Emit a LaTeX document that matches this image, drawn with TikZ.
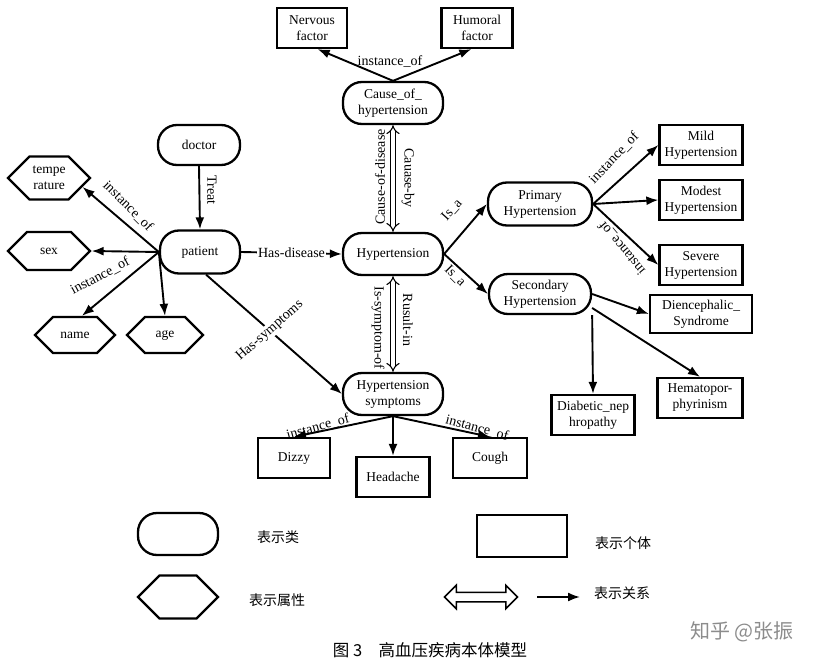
\documentclass[tikz,border=0pt]{standalone}
\usepackage{fontspec}
\setmainfont{Liberation Serif}
\newfontfamily\cjkfont{Noto Sans CJK SC}
\usetikzlibrary{arrows.meta,shapes.symbols,shapes.arrows}
\newcommand{\nodefont}{\fontsize{13.5}{16}\selectfont}
\newcommand{\labelfont}{\fontsize{14}{16}\selectfont}
\tikzset{every picture/.style={line width=0.75pt}}
\tikzset{
classnode/.style={draw, line width=2.3pt, rounded corners=19pt, minimum width=100pt, minimum height=42pt, align=center, inner sep=2pt, font=\nodefont},
indivnode/.style={draw, line width=2.3pt, minimum width=83pt, minimum height=40pt, align=center, inner sep=2pt, font=\nodefont},
attrnode/.style={draw, line width=2.3pt, shape=signal, signal to=west and east, minimum width=82pt, minimum height=40pt, align=center, inner sep=1pt, font=\nodefont},
relarrow/.style={line width=1.9pt, -{Latex[length=12pt,width=9pt]}},
dblarrow/.style={double, double distance=3.5pt, line width=1.1pt, {Implies}-{Implies}},
rellabel/.style={font=\labelfont, inner sep=1pt},
cjktext/.style={font=\cjkfont\fontsize{14}{16}\selectfont, inner sep=1pt}}

\begin{document}
\begin{tikzpicture}[x=1pt,y=1pt,yscale=-1,xscale=1]
            \useasboundingbox (0,0) rectangle (821,663); %same size as the scan

            %Class nodes
            \node[classnode] (cause) at (393,103) {Cause\_of\_\\hypertension};
            \node[classnode, minimum width=82pt, minimum height=40pt] (doctor) at (199,145) {doctor};
            \node[classnode, minimum width=80pt, minimum height=43pt] (patient) at (200,252) {patient};
            \node[classnode] (hyper) at (393,254) {Hypertension};
            \node[classnode, minimum width=104pt, minimum height=43pt] (primary) at (540,204) {Primary\\Hypertension};
            \node[classnode, minimum width=102pt, minimum height=40pt] (secondary) at (540,294) {Secondary\\Hypertension};
            \node[classnode] (symptoms) at (393,394) {Hypertension\\symptoms};

            %Individuals
            \node[indivnode, minimum width=70pt] (nervous) at (312,28) {Nervous\\factor};
            \node[indivnode, minimum width=71pt] (humoral) at (477,28) {Humoral\\factor};
            \node[indivnode] (mild) at (701,145) {Mild\\Hypertension};
            \node[indivnode] (modest) at (701,200) {Modest\\Hypertension};
            \node[indivnode] (severe) at (701,265) {Severe\\Hypertension};
            \node[indivnode, minimum width=102pt, minimum height=38pt] (dienc) at (701,314) {Diencephalic\_\\Syndrome};
            \node[indivnode, minimum width=85pt] (hemato) at (700,398) {Hematopor-\\phyrinism};
            \node[indivnode] (diab) at (593,415) {Diabetic\_nep\\hropathy};
            \node[indivnode, minimum width=72pt] (dizzy) at (294,458) {Dizzy};
            \node[indivnode, minimum width=73pt] (headache) at (393,477) {Headache};
            \node[indivnode, minimum width=74pt] (cough) at (490,458) {Cough};

            %Attributes
            \node[attrnode, minimum height=43pt] (tempe) at (49,178) {tempe\\rature};
            \node[attrnode, minimum height=38pt] (sex) at (49,251) {sex};
            \node[attrnode, minimum width=80pt, minimum height=36pt] (name) at (75,335) {name};
            \node[attrnode, minimum width=76pt, minimum height=36pt] (age) at (165,335) {age};

            %Relations
            \draw[relarrow] (cause.north) -- (nervous.-75);
            \draw[relarrow] (cause.north) -- (humoral.-105);
            \node[rellabel] (lInstCause) at (390,61) {instance\_of};
            \draw[dblarrow] (cause.south) -- (hyper.north);
            \node[rellabel, rotate=90] (lCauseOf) at (380,177) {Cause-of-disease};
            \node[rellabel, rotate=-90] (lCauseBy) at (408,178) {Cauase-by};
            \draw[relarrow] (doctor.south) -- (patient.north);
            \node[rellabel, rotate=-90] (lTreat) at (212,190) {Treat};
            \draw[relarrow] (patient.west) -- (tempe.-15);
            \draw[relarrow] (patient.west) -- (sex.east);
            \draw[relarrow] (patient.west) -- (name.70);
            \draw[relarrow] (patient.west) -- (age.north);
            \node[rellabel, rotate=-45] (lInstTempe) at (128,206) {instance\_of};
            \node[rellabel, rotate=28] (lInstSex) at (100,276) {instance\_of};
            \draw[relarrow] (patient.east) -- node[rellabel, fill=white] (lHasDis) {Has-disease} (hyper.west);
            \draw[relarrow] (patient.-75) -- node[rellabel, fill=white, sloped, pos=0.47] (lHasSym) {Has-symptoms} (symptoms.west);
            \draw[dblarrow] (hyper.south) -- (symptoms.north);
            \node[rellabel, rotate=-90] (lSymOf) at (378,328) {Is-symptom-of};
            \node[rellabel, rotate=-90] (lResult) at (408,320) {Rusult-in};
            \draw[relarrow] (hyper.east) -- (primary.west);
            \draw[relarrow] (hyper.east) -- (secondary.west);
            \node[rellabel, rotate=48] (lIsaP) at (452,210) {Is\_a};
            \node[rellabel, rotate=-45] (lIsaS) at (455,276) {Is\_a};
            \draw[relarrow] (primary.east) -- (mild.west);
            \draw[relarrow] (primary.east) -- (modest.west);
            \draw[relarrow] (primary.east) -- (severe.west);
            \node[rellabel, rotate=46] (lInstMild) at (614,158) {instance\_of};
            \node[rellabel, rotate=130] (lInstSevere) at (622,248) {instance\_of};
            \draw[relarrow] (secondary.east) -- (dienc.west);
            \draw[relarrow] (secondary.-15) -- (hemato.north);
            \draw[relarrow] (secondary.south east) -- (diab.north);
            \draw[relarrow] (symptoms.south) -- (dizzy.north);
            \draw[relarrow] (symptoms.south) -- (headache.north);
            \draw[relarrow] (symptoms.south) -- (cough.north);
            \node[rellabel, rotate=15] (lInstDizzy) at (318,427) {instance\_of};
            \node[rellabel, rotate=-15] (lInstCough) at (477,428) {instance\_of};

            %Legend
            \node[classnode, minimum width=80pt] (legClass) at (178,534) {};
            \node[cjktext] (legClassTxt) at (278,537) {表示类};
            \node[attrnode, minimum width=80pt, minimum height=43pt] (legAttr) at (178,597) {};
            \node[cjktext] (legAttrTxt) at (277,600) {表示属性};
            \node[indivnode, minimum width=90pt, minimum height=42pt] (legIndiv) at (522,536) {};
            \node[cjktext] (legIndivTxt) at (623,543) {表示个体};
            \node[double arrow, draw, line width=1.5pt, minimum height=73pt, inner sep=4pt, double arrow head extend=7pt] (legDbl) at (481,597) {};
            \coordinate (legArrA) at (537,597);
            \coordinate (legArrB) at (580,597);
            \draw[relarrow] (legArrA) -- (legArrB);
            \node[cjktext] (legRelTxt) at (622,593) {表示关系};

            %Caption and mark
            \node[cjktext, font=\cjkfont\fontsize{16.5}{18}\selectfont] (caption) at (430,650) {图 3\quad 高血压疾病本体模型};
            \node[cjktext, font=\cjkfont\fontsize{20}{22}\selectfont, text=black!45] (mark) at (742,632) {知乎 @张振};
            \end{tikzpicture}
\end{document}
